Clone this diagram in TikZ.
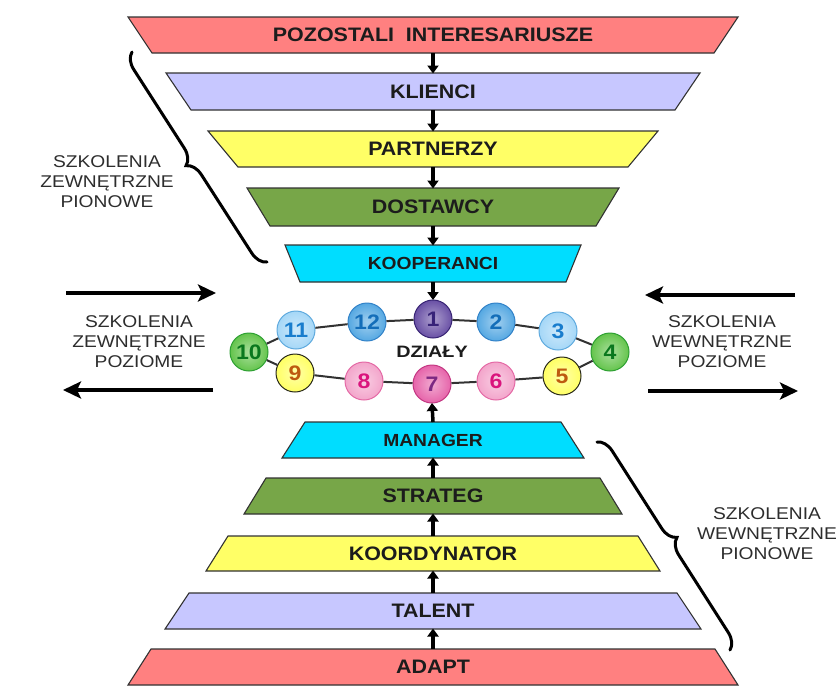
\documentclass[tikz,border=0pt]{standalone}
\usepackage{fontspec}
\setmainfont{Liberation Sans}
\newfontfamily\boxfont{Liberation Sans}[FakeStretch=1.1]
\newfontfamily\sidefont{Liberation Sans}[FakeStretch=1.13]
\newfontfamily\hubfont{Liberation Sans}[FakeStretch=1.2]
\usetikzlibrary{arrows.meta,decorations.pathreplacing}

% layer colours
\definecolor{salmon}{RGB}{255,128,128}
\definecolor{lavender}{RGB}{199,199,255}
\definecolor{lemon}{RGB}{255,255,102}
\definecolor{olive}{RGB}{119,166,72}
\definecolor{aqua}{RGB}{0,221,255}
\definecolor{edge}{RGB}{50,50,50}
\definecolor{ink}{RGB}{28,28,28}
\definecolor{greyink}{RGB}{45,45,45}
% department balls: fill, rim, digit
\definecolor{fA}{RGB}{105,80,165}   \definecolor{rA}{RGB}{55,35,115}   \definecolor{tA}{RGB}{55,35,120}
\definecolor{fB}{RGB}{85,168,226}   \definecolor{rB}{RGB}{50,130,200}  \definecolor{tB}{RGB}{20,110,185}
\definecolor{fC}{RGB}{165,215,247}  \definecolor{rC}{RGB}{95,170,222}  \definecolor{tC}{RGB}{25,125,205}
\definecolor{fD}{RGB}{100,196,76}   \definecolor{rD}{RGB}{45,160,50}   \definecolor{tD}{RGB}{10,120,30}
\definecolor{fE}{RGB}{255,255,100}  \definecolor{rE}{RGB}{40,40,25}    \definecolor{tE}{RGB}{190,90,15}
\definecolor{fF}{RGB}{243,165,203}  \definecolor{rF}{RGB}{228,105,165} \definecolor{tF}{RGB}{218,20,125}
\definecolor{fG}{RGB}{230,100,170}  \definecolor{rG}{RGB}{195,55,130}  \definecolor{tG}{RGB}{125,40,130}

% one trapezoid layer: name, top y, bottom y, top half-width, bottom half-width, fill, label
\newcommand\drawlayer[7]{%
  \filldraw[layeredge, fill=#6] ({433-#4},#2) -- ({433+#4},#2) -- ({433+#5},#3) -- ({433-#5},#3) -- cycle;
  \node[layerlabel, minimum height={(#3-#2)*1pt}] (#1) at (433,{(#2+#3)/2}) {#7};
}
\newcommand\smallcaps{\boxfont\bfseries\fontsize{17.5}{20}\selectfont}

\begin{document}
\begin{tikzpicture}[x=1pt,y=-1pt,
  layeredge/.style={draw=edge, line width=1.1pt, line join=miter},
  layerlabel/.style={inner sep=0pt, outer sep=0pt, text=ink, font=\boxfont\bfseries\fontsize{19.5}{22}\selectfont},
  flow/.style={line width=3.5pt, draw=black, -{Triangle[length=8pt,width=11pt]}, shorten >=-0.5pt},
  sidearrow/.style={line width=4pt, draw=black, -{Stealth[length=18pt,width=17pt,inset=4pt]}},
  sidetext/.style={align=center, text=greyink, inner sep=0pt, font=\sidefont\fontsize{17}{20}\selectfont},
  curly/.style={draw=black, line width=3pt, line cap=round, decorate, decoration={brace, amplitude=16pt}},
  dept/.style n args={3}{circle, minimum size=38pt, inner sep=0pt, draw=#2, line width=1pt,
    inner color=#1!55!white, outer color=#1, text=#3,
    font=\boxfont\bfseries\fontsize{21}{22}\selectfont},
  ring/.style={draw=edge, line width=2pt}
]
\useasboundingbox (0,0) rectangle (838,686);

% external chain (upper funnel)
\drawlayer{pozostali}{17}{53}{305}{281}{salmon}{POZOSTALI\ \ INTERESARIUSZE}
\drawlayer{klienci}{73}{110}{267}{242}{lavender}{KLIENCI}
\drawlayer{partnerzy}{131}{167}{225}{195}{lemon}{PARTNERZY}
\drawlayer{dostawcy}{188}{226}{186}{163}{olive}{DOSTAWCY}
\drawlayer{kooperanci}{245}{282}{148}{133}{aqua}{\smallcaps KOOPERANCI}

% internal chain (lower pyramid)
\drawlayer{manager}{422}{458}{128}{151}{aqua}{\smallcaps MANAGER}
\drawlayer{strateg}{478}{514}{167}{189}{olive}{STRATEG}
\drawlayer{koordynator}{536}{571}{205}{227}{lemon}{KOORDYNATOR}
\drawlayer{talent}{593}{629}{244}{268}{lavender}{TALENT}
\drawlayer{adapt}{649}{685}{282}{305}{salmon}{ADAPT}

% departments
\node[dept={fA}{rA}{tA}] (d1)  at (433,319) {1};
\node[dept={fB}{rB}{tB}] (d2)  at (496,322) {2};
\node[dept={fC}{rC}{tC}] (d3)  at (558,331) {3};
\node[dept={fD}{rD}{tD}] (d4)  at (610,352) {4};
\node[dept={fE}{rE}{tE}] (d5)  at (562,376) {5};
\node[dept={fF}{rF}{tF}] (d6)  at (496,381) {6};
\node[dept={fG}{rG}{tG}] (d7)  at (432,384) {7};
\node[dept={fF}{rF}{tF}] (d8)  at (364,381) {8};
\node[dept={fE}{rE}{tE}] (d9)  at (295,373) {9};
\node[dept={fD}{rD}{tD}] (d10) at (249,352) {10};
\node[dept={fC}{rC}{tC}] (d11) at (296,330) {11};
\node[dept={fB}{rB}{tB}] (d12) at (367,322) {12};
\node[text=ink, font=\hubfont\bfseries\fontsize{16.5}{18}\selectfont] (dzialy) at (432,352) {DZIAŁY};

\foreach \a/\b in {1/2,2/3,3/4,4/5,5/6,6/7,7/8,8/9,9/10,10/11,11/12,12/1}
  \draw[ring] (d\a) -- (d\b);

% vertical flow
\draw[flow] (pozostali.south) -- (klienci.north);
\draw[flow] (klienci.south) -- (partnerzy.north);
\draw[flow] (partnerzy.south) -- (dostawcy.north);
\draw[flow] (dostawcy.south) -- (kooperanci.north);
\draw[flow] (kooperanci.south) -- (d1.north);
\draw[flow] (adapt.north) -- (talent.south);
\draw[flow] (talent.north) -- (koordynator.south);
\draw[flow] (koordynator.north) -- (strateg.south);
\draw[flow] (strateg.north) -- (manager.south);
\draw[flow] (manager.north) -- (d7.south);

% horizontal training
\coordinate (lin1) at (66,293);   \coordinate (lin2) at (216,293);
\coordinate (lout1) at (213,390); \coordinate (lout2) at (63,390);
\coordinate (rin1) at (795,295);  \coordinate (rin2) at (645,295);
\coordinate (rout1) at (648,391); \coordinate (rout2) at (798,391);
\draw[sidearrow] (lin1) -- (lin2);
\draw[sidearrow] (lout1) -- (lout2);
\draw[sidearrow] (rin1) -- (rin2);
\draw[sidearrow] (rout1) -- (rout2);
\node[sidetext] (hext) at (139,342) {SZKOLENIA\\ZEWNĘTRZNE\\POZIOME};
\node[sidetext] (hint) at (722,342) {SZKOLENIA\\WEWNĘTRZNE\\POZIOME};

% vertical training braces
\coordinate (lb1) at (267,262); \coordinate (lb2) at (132,52);
\coordinate (rb1) at (597,442); \coordinate (rb2) at (730,650);
\draw[curly] (lb1) -- (lb2);
\draw[curly] (rb1) -- (rb2);
\node[sidetext] (vext) at (107,182) {SZKOLENIA\\ZEWNĘTRZNE\\PIONOWE};
\node[sidetext] (vint) at (767,534) {SZKOLENIA\\WEWNĘTRZNE\\PIONOWE};
\end{tikzpicture}
\end{document}
